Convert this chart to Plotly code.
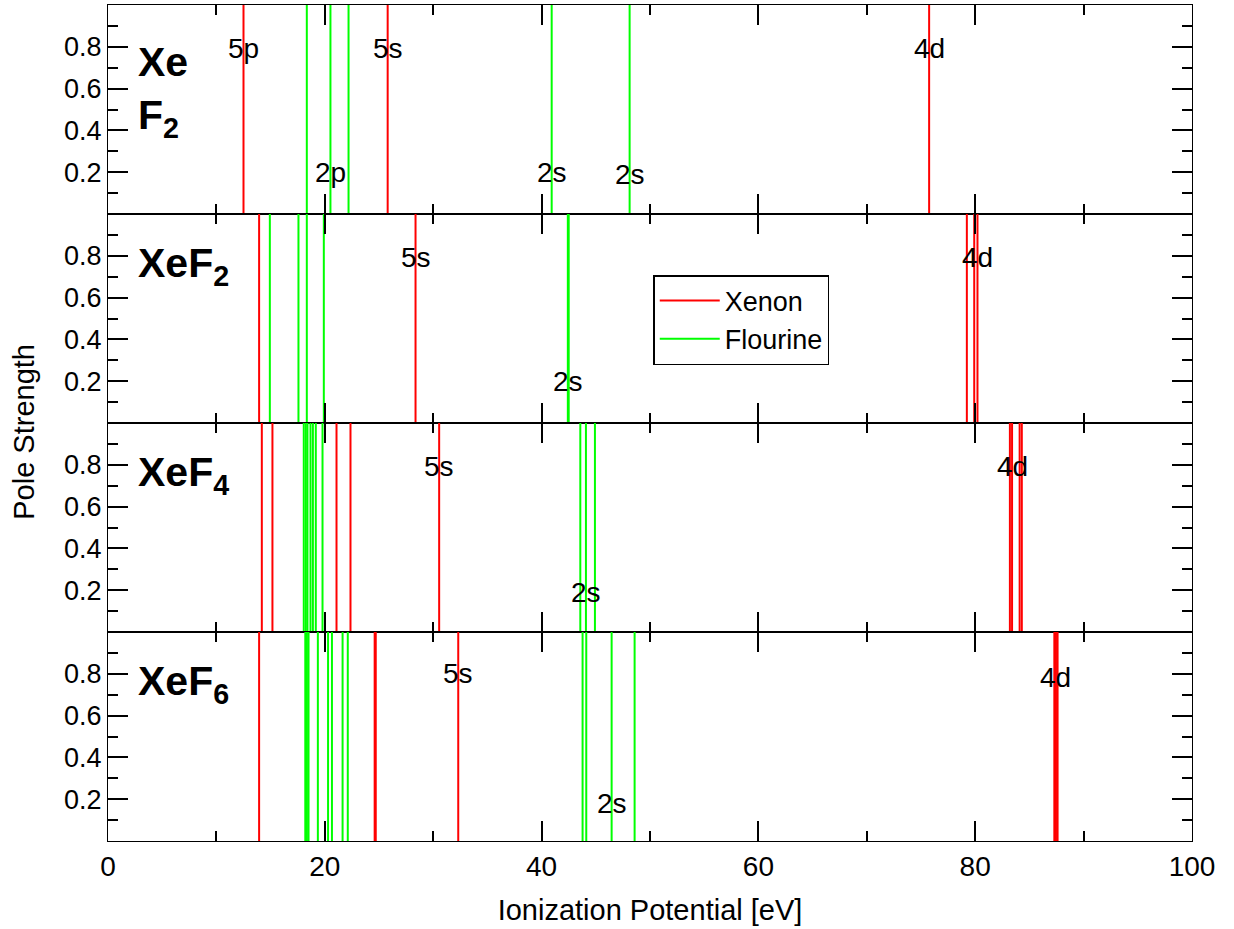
import plotly.graph_objects as go
from plotly.subplots import make_subplots

# Panel titles (top to bottom)
panel_titles = ["<b>Xe<br>F<sub>2</sub></b>", "<b>XeF<sub>2</sub></b>",
                "<b>XeF<sub>4</sub></b>", "<b>XeF<sub>6</sub></b>"]

# Ionization potentials [eV] and pole strengths, per panel
xenon_ip = [
    [12.5, 25.8, 75.75],
    [13.94, 28.37, 79.23, 79.91, 80.21],
    [14.19, 15.17, 21.08, 22.37, 30.55, 83.2, 83.4, 84.1, 84.3],
    [13.94, 24.6, 24.7, 32.31, 87.3, 87.45, 87.6],
]
xenon_ps = [
    [1.0, 1.0, 1.0],
    [1.0, 1.0, 1.0, 1.0, 1.0],
    [1.0, 1.0, 1.0, 1.0, 1.0, 1.0, 1.0, 1.0, 1.0],
    [1.0, 1.0, 1.0, 1.0, 1.0, 1.0, 1.0],
]
fluorine_ip = [
    [18.34, 20.52, 22.19, 40.93, 48.12],
    [14.93, 17.57, 18.34, 19.91, 42.42, 42.5],
    [18.06, 18.25, 18.4, 18.68, 18.9, 19.17, 19.79, 43.57, 44.09, 44.92],
    [18.2, 18.35, 18.5, 19.36, 20.3, 20.66, 21.64, 22.12, 43.78, 44.12, 46.46, 48.58],
]
fluorine_ps = [
    [1.0, 1.0, 1.0, 1.0, 1.0],
    [1.0, 1.0, 1.0, 1.0, 1.0, 1.0],
    [1.0, 1.0, 1.0, 1.0, 1.0, 1.0, 1.0, 1.0, 1.0, 1.0],
    [1.0, 1.0, 1.0, 1.0, 1.0, 1.0, 1.0, 1.0, 1.0, 1.0, 1.0, 1.0],
]

# Orbital labels: (text, energy of the labelled line, height)
orbital_labels = [
    [("5p", 12.5, 0.79), ("5s", 25.8, 0.79), ("4d", 75.75, 0.79),
     ("2p", 20.52, 0.2), ("2s", 40.93, 0.2), ("2s", 48.12, 0.19)],
    [("5s", 28.37, 0.79), ("4d", 80.21, 0.79), ("2s", 42.46, 0.2)],
    [("5s", 30.55, 0.79), ("4d", 83.4, 0.79), ("2s", 44.09, 0.19)],
    [("5s", 32.31, 0.8), ("4d", 87.45, 0.78), ("2s", 46.46, 0.18)],
]

x_ticks = [0, 20, 40, 60, 80, 100]
y_ticks = [0.2, 0.4, 0.6, 0.8]

FONT = "Arial, Liberation Sans, sans-serif"
RED = "#ff0000"
GREEN = "#00ff00"


def stick_xy(energies, strengths):
    xs, ys = [], []
    for e, p in zip(energies, strengths):
        xs += [e, e, None]
        ys += [0, p, None]
    return xs, ys


fig = make_subplots(rows=4, cols=1, shared_xaxes=True, vertical_spacing=0)

for i in range(4):
    row = i + 1
    xs, ys = stick_xy(xenon_ip[i], xenon_ps[i])
    fig.add_trace(go.Scatter(x=xs, y=ys, mode="lines", name="Xenon",
                             line=dict(color=RED, width=2),
                             showlegend=(i == 0), legendrank=1),
                  row=row, col=1)
    xs, ys = stick_xy(fluorine_ip[i], fluorine_ps[i])
    fig.add_trace(go.Scatter(x=xs, y=ys, mode="lines", name="Flourine",
                             line=dict(color=GREEN, width=2),
                             showlegend=(i == 0), legendrank=2),
                  row=row, col=1)

    for text, e, h in orbital_labels[i]:
        fig.add_annotation(x=e, y=h, text=text, showarrow=False,
                           font=dict(family=FONT, size=28, color="black"),
                           xanchor="center", yanchor="middle",
                           row=row, col=1)

    fig.add_annotation(x=2.6, y=0.75 if i else 0.585, text=panel_titles[i],
                       showarrow=False, align="left",
                       font=dict(family=FONT, size=41, color="black"),
                       xanchor="left", yanchor="middle", row=row, col=1)

    fig.update_yaxes(range=[0, 1], tickvals=y_ticks,
                     ticktext=[f"{v:.1f}" for v in y_ticks],
                     ticks="inside", ticklen=20, tickwidth=1.5, tickcolor="black",
                     minor=dict(dtick=0.1, ticks="inside", ticklen=10,
                                tickwidth=1.5, tickcolor="black"),
                     showline=True, linecolor="black", linewidth=1.2, mirror="allticks",
                     showgrid=False, zeroline=False,
                     tickfont=dict(family=FONT, size=27, color="black"),
                     row=row, col=1)
    fig.update_xaxes(range=[0, 100], tickvals=x_ticks,
                     ticks="inside", ticklen=20, tickwidth=1.5, tickcolor="black",
                     minor=dict(dtick=10, ticks="inside", ticklen=10,
                                tickwidth=1.5, tickcolor="black"),
                     showline=True, linecolor="black", linewidth=1.2, mirror="allticks",
                     showgrid=False, zeroline=False,
                     showticklabels=(row == 4),
                     tickfont=dict(family=FONT, size=28, color="black"),
                     row=row, col=1)

fig.update_xaxes(title=dict(text="Ionization Potential [eV]",
                            font=dict(family=FONT, size=29, color="black"),
                            standoff=18),
                 row=4, col=1)

fig.add_annotation(x=-0.077, y=0.489, xref="paper", yref="paper",
                   text="Pole Strength", textangle=-90, showarrow=False,
                   font=dict(family=FONT, size=29, color="black"),
                   xanchor="center", yanchor="middle")

fig.update_layout(
    width=1234, height=929,
    margin=dict(l=108, r=42, t=5, b=88),
    paper_bgcolor="white", plot_bgcolor="white",
    showlegend=True,
    legend=dict(x=0.503, y=0.677, xanchor="left", yanchor="top",
                bgcolor="white", bordercolor="black", borderwidth=1.5,
                font=dict(family=FONT, size=27, color="black"),
                tracegroupgap=0, itemwidth=60),
)

fig.write_html("out.html")
